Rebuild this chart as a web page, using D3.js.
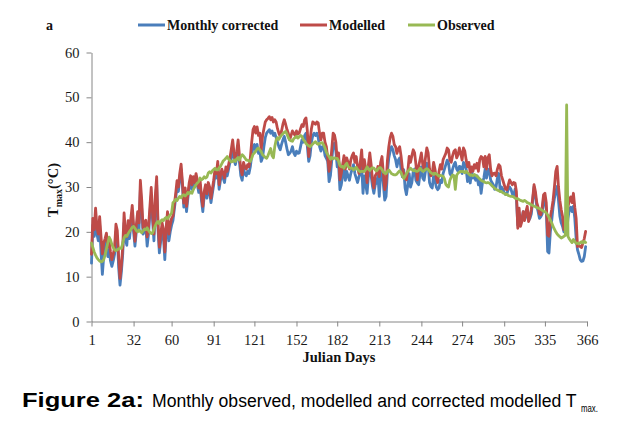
<!DOCTYPE html>
<html><head><meta charset="utf-8">
<script src="https://cdn.jsdelivr.net/npm/d3@7"></script>
<style>
html,body{margin:0;padding:0;background:#fff;}
svg{display:block;}
</style></head>
<body>
<svg id="chart" width="624" height="427"></svg>
<script>
// ---------------- DATA ----------------
const seriesNames = ["Monthly corrected", "Modelled", "Observed"];
const xTickValues = [1, 32, 60, 91, 121, 152, 182, 213, 244, 274, 305, 335, 366];
const yTickValues = [0, 10, 20, 30, 40, 50, 60];

const modelled = [
15.0,23.0,20.5,25.3,21.0,19.5,23.4,19.0,15.1,17.5,
18.5,19.7,16.6,18.0,15.5,13.8,15.0,16.5,21.7,20.3,
14.5,9.6,12.5,16.6,24.2,20.0,18.9,22.5,20.0,23.0,
25.9,21.5,17.9,21.5,24.5,22.0,31.5,27.0,20.9,22.0,
22.6,18.9,21.0,25.5,29.9,24.0,19.5,28.0,32.3,22.0,
16.6,19.5,22.0,20.5,15.5,21.0,24.5,19.5,21.5,23.0,
23.5,26.0,28.5,31.4,30.0,33.0,35.1,31.0,26.4,29.8,
25.7,28.5,31.0,32.5,30.5,32.3,31.0,33.0,31.5,29.8,
31.5,28.0,25.7,29.0,30.5,28.5,31.0,30.0,27.5,29.5,
31.5,34.0,33.0,35.7,30.5,32.5,34.0,33.0,32.0,34.5,
33.5,35.0,36.5,38.5,40.5,37.5,36.0,38.0,40.5,37.0,
34.0,32.7,35.5,34.5,34.0,35.0,34.5,36.5,40.0,42.8,
43.5,42.0,43.4,41.5,42.0,38.3,41.3,43.0,44.5,45.0,
45.3,45.7,45.0,45.5,44.5,45.0,44.5,43.0,42.0,41.3,
42.5,44.0,45.0,44.0,42.8,42.0,40.5,41.5,42.5,42.0,
41.5,42.5,41.8,42.0,43.0,43.9,43.5,45.0,45.4,42.5,
36.8,40.5,43.0,44.5,44.3,44.0,44.5,44.3,42.0,40.5,
42.0,42.0,40.0,39.0,36.5,33.5,35.0,38.5,42.0,41.6,
40.0,36.1,37.6,31.6,33.0,35.0,37.0,34.0,36.5,35.5,
34.0,36.0,37.0,37.6,35.5,36.8,34.5,33.0,35.5,38.3,
33.5,36.1,34.0,31.0,35.0,37.6,35.0,31.5,29.8,32.5,
33.0,34.6,32.3,35.5,36.8,33.0,29.4,30.9,36.0,39.0,
41.0,42.0,41.3,39.5,39.0,37.5,38.5,39.0,37.0,34.2,
33.0,32.0,31.6,33.5,36.8,35.5,37.0,38.3,37.6,35.0,
31.6,34.6,36.1,37.6,35.0,34.0,36.5,38.7,37.6,34.0,
32.5,33.0,35.5,34.0,32.0,31.0,33.5,35.0,34.0,36.1,
36.8,37.5,38.7,38.3,36.0,35.5,37.0,38.0,38.3,36.5,
37.2,38.7,37.5,36.0,38.7,38.0,36.0,34.5,35.5,33.1,
34.5,33.5,35.0,34.2,35.3,33.5,36.1,36.8,36.5,34.5,
36.8,34.0,36.5,37.2,34.0,32.5,33.0,33.1,32.5,34.0,
35.0,34.6,32.5,31.5,30.5,29.5,29.4,30.5,31.6,31.0,
30.5,31.0,30.9,29.0,20.8,25.3,21.2,22.3,24.5,22.5,
24.5,25.7,22.3,23.5,25.0,27.5,30.5,29.0,26.5,25.5,
24.0,23.8,25.5,28.3,28.6,26.5,19.3,19.0,23.4,25.0,
27.0,30.0,33.5,34.6,30.0,27.0,25.0,23.4,20.5,20.5,
21.0,25.6,27.0,27.8,26.5,28.6,25.5,23.0,16.7,17.0,
16.7,16.5,17.5,18.5,20.1];

const corrected = [
13.0,21.5,19.0,23.0,19.5,18.0,21.5,15.5,10.5,14.5,
16.5,18.0,14.5,16.0,13.5,12.3,13.5,15.0,20.0,18.8,
12.0,8.1,11.0,15.0,22.0,18.5,17.0,21.0,18.5,21.5,
24.0,20.0,16.8,20.0,23.0,20.5,29.5,25.0,19.5,20.5,
21.0,16.8,19.5,24.0,28.0,22.5,18.0,26.5,30.5,20.5,
15.3,18.0,20.5,19.0,13.8,19.5,23.0,18.0,20.0,21.5,
22.5,25.0,27.5,30.0,29.0,32.0,34.0,30.0,25.5,28.5,
24.5,27.5,30.0,31.5,29.5,31.5,30.0,32.0,30.5,28.8,
30.5,27.0,24.5,28.0,29.5,27.5,30.0,29.0,26.5,28.5,
30.5,33.0,32.0,34.5,29.5,31.5,33.0,32.0,31.0,33.5,
32.5,34.0,35.5,37.0,38.5,36.0,35.0,36.5,38.0,35.5,
32.5,31.5,34.0,33.0,32.5,33.5,33.0,34.5,37.0,39.0,
39.5,38.0,39.5,37.5,38.0,35.7,36.5,39.0,41.0,42.0,
42.4,42.8,42.0,42.5,41.5,42.0,41.0,40.0,39.0,38.3,
39.5,40.5,41.3,40.0,38.5,37.2,37.5,38.0,39.0,37.6,
37.0,38.0,37.5,37.6,39.0,40.5,40.0,41.5,42.0,39.0,
35.7,37.0,40.0,41.5,42.0,41.5,42.0,41.0,39.0,38.0,
39.0,39.0,37.0,36.4,35.7,31.2,32.5,36.0,39.4,39.8,
38.0,34.5,35.0,29.4,30.5,32.5,34.5,31.5,33.5,32.5,
31.5,33.0,34.0,35.0,33.0,32.0,31.0,32.3,33.0,35.0,
28.6,32.5,30.5,28.6,32.5,35.0,32.5,30.1,28.6,30.5,
31.0,32.5,27.9,33.0,34.5,30.5,27.1,27.9,33.5,36.5,
38.0,39.0,38.3,37.0,36.1,34.5,36.0,36.5,34.0,32.3,
33.9,29.8,28.3,30.5,33.0,30.0,31.0,33.5,34.0,31.5,
30.9,30.5,33.0,34.5,32.0,31.5,33.5,35.3,35.0,31.0,
30.1,29.8,32.5,31.5,30.0,29.4,29.8,31.5,31.0,33.0,
34.0,35.0,36.0,35.3,33.0,32.5,34.0,35.0,35.5,34.0,
33.5,34.6,34.5,33.0,35.5,35.0,33.9,31.2,33.0,30.9,
33.5,32.0,32.5,31.5,32.5,30.5,31.5,28.6,31.0,32.0,
34.0,32.0,33.5,34.0,31.6,31.0,30.5,29.5,30.0,32.0,
33.0,29.4,30.0,29.5,28.8,28.3,28.5,29.5,30.0,29.5,
28.5,28.0,29.5,27.5,21.5,23.5,22.0,22.8,24.5,23.0,
23.5,23.5,22.5,23.0,24.0,27.0,30.0,28.0,25.7,24.5,
23.0,23.4,24.0,27.5,27.0,25.0,15.6,15.3,20.0,22.5,
25.5,27.5,29.0,30.1,27.0,23.5,22.0,21.2,20.0,20.0,
20.0,23.0,25.0,25.5,24.5,25.7,23.0,18.5,16.0,15.0,
13.8,13.4,13.5,14.5,16.7];

const observed = [
17.5,16.5,15.5,14.8,14.2,13.8,13.5,13.3,13.4,13.8,
14.8,16.2,17.5,18.8,18.2,17.2,16.5,16.0,15.8,16.0,
16.2,16.4,16.3,17.5,18.7,19.2,19.0,19.6,20.1,20.5,
21.0,21.2,20.8,20.3,20.0,20.4,20.1,19.8,20.2,20.6,
20.5,20.9,20.3,19.9,19.6,19.8,20.6,21.4,22.0,22.3,
21.8,22.4,22.7,22.5,23.0,23.2,22.9,23.4,23.8,24.2,
26.5,26.8,27.3,27.0,27.5,27.9,27.6,28.1,28.3,28.0,
28.3,28.8,28.5,28.9,28.6,29.4,30.0,30.5,30.9,31.2,
32.0,31.6,31.8,32.3,32.0,32.2,33.1,33.4,33.1,33.6,
33.9,34.2,33.8,33.8,34.3,34.6,35.2,35.8,36.1,36.4,
36.8,36.2,35.9,35.6,35.7,36.0,35.7,36.3,36.6,36.0,
36.8,37.2,36.9,36.5,36.0,36.0,35.8,35.7,36.4,37.3,
37.6,38.0,38.5,38.7,38.3,37.9,37.2,36.9,36.6,36.4,
37.0,37.8,38.6,37.0,36.5,39.0,40.5,41.0,40.6,41.2,
41.6,41.9,42.2,42.4,41.8,41.0,40.5,40.3,40.2,40.8,
41.0,41.3,40.9,41.2,41.5,41.3,40.6,40.2,39.7,39.4,
39.2,39.0,39.3,39.6,39.9,40.1,39.7,39.5,39.8,39.8,
39.9,39.4,38.7,37.8,37.2,36.8,36.2,36.6,36.3,36.5,
36.4,36.4,35.8,34.8,34.5,34.6,34.2,34.9,35.3,34.6,
34.3,34.2,34.2,33.8,34.1,34.4,33.9,33.6,33.4,33.5,
33.5,33.5,33.9,34.5,34.0,33.7,34.1,34.3,34.2,33.8,
33.6,34.0,34.3,34.3,33.9,33.3,33.1,33.0,33.5,33.8,
33.4,33.0,32.8,32.7,32.7,32.9,33.3,33.6,33.2,32.5,
31.9,32.4,33.0,33.5,33.8,34.2,33.9,33.6,33.8,33.5,
33.5,33.7,34.2,33.8,33.5,33.6,33.9,34.1,33.9,33.5,
33.2,33.0,32.8,33.1,32.9,32.7,32.4,32.6,32.5,32.4,
31.8,30.6,30.2,30.0,31.5,32.2,32.7,32.5,29.5,32.6,
33.1,33.3,33.5,33.4,33.5,33.2,33.5,33.2,32.9,32.6,
32.7,32.5,32.8,32.6,32.4,32.1,31.8,31.5,31.3,31.2,
31.0,30.9,31.0,30.9,30.6,30.3,30.0,29.7,29.5,29.3,
29.2,29.0,29.0,28.7,28.6,28.3,28.4,28.1,28.0,27.9,
27.9,27.8,27.5,27.4,27.4,27.2,27.0,26.9,26.8,27.0,
26.8,26.5,26.4,26.2,26.0,25.9,25.7,25.6,25.4,25.3,
25.2,25.0,24.8,24.6,24.5,24.2,23.8,23.2,22.6,22.0,
21.2,20.6,20.0,19.5,19.2,18.9,18.6,18.8,19.0,19.2,
48.3,19.0,18.4,18.0,17.6,18.3,17.8,17.4,17.5,17.3,
17.6,17.8,17.5,17.9,17.6];

const seriesColors = ["#4A7EBB", "#BE4B48", "#98B954"];

// ---------------- CHART ----------------
const svg = d3.select("#chart");
const x = d3.scaleLinear().domain([1, 366]).range([91.5, 587]);
const y = d3.scaleLinear().domain([0, 60]).range([321.5, 52.5]);
const axisColor = "#868686";
const serif = "'Liberation Serif','Times New Roman',serif";

// y axis
const yAxis = svg.append("g").attr("transform", `translate(${x.range()[0]},0)`)
  .call(d3.axisLeft(y).tickValues(yTickValues).tickSize(5).tickSizeOuter(0).tickPadding(7));
// x axis
const xAxis = svg.append("g").attr("transform", `translate(0,${y(0)})`)
  .call(d3.axisBottom(x).tickValues(xTickValues).tickSize(5).tickSizeOuter(0).tickPadding(8));
[yAxis, xAxis].forEach(g => {
  g.select(".domain").attr("stroke", axisColor).attr("stroke-width", 1);
  g.selectAll(".tick line").attr("stroke", axisColor);
  g.selectAll(".tick text").attr("fill", "#1a1a1a").style("font-family", serif).style("font-size", "14.5px");
});

// lines
const seriesData = [corrected, modelled, observed];
const line = d3.line().x((d, i) => x(i + 1)).y(d => y(d));
seriesData.forEach((vals, k) => {
  svg.append("path").datum(vals)
    .attr("fill", "none").attr("stroke", seriesColors[k])
    .attr("stroke-width", 2.8).attr("stroke-linejoin", "round").attr("stroke-linecap", "round")
    .attr("d", line);
});

// panel letter
svg.append("text").attr("x", 46).attr("y", 30).text("a")
  .style("font-family", serif).style("font-weight", "bold").style("font-size", "14px").attr("fill", "#111");

// legend
const legendX = [138, 300, 408];
seriesNames.forEach((n, k) => {
  const gx = legendX[k];
  svg.append("line").attr("x1", gx).attr("x2", gx + 27).attr("y1", 25).attr("y2", 25)
    .attr("stroke", seriesColors[k]).attr("stroke-width", 3);
  svg.append("text").attr("x", gx + 29).attr("y", 30).text(n)
    .style("font-family", serif).style("font-weight", "bold").style("font-size", "14px").attr("fill", "#111");
});

// y title
const yt = svg.append("text").attr("transform", "translate(58,190) rotate(-90)")
  .attr("text-anchor", "middle")
  .style("font-family", serif).style("font-weight", "bold").style("font-size", "14.5px").attr("fill", "#111");
yt.append("tspan").text("T");
yt.append("tspan").text("max").attr("dy", 4).style("font-size", "10px");
yt.append("tspan").text("(°C)").attr("dy", -4);

// x title
svg.append("text").attr("x", 339).attr("y", 362).attr("text-anchor", "middle").text("Julian Days")
  .style("font-family", serif).style("font-weight", "bold").style("font-size", "14.5px").attr("fill", "#111");

// caption (horizontally scaled to the reference's spans)
const sans = "'Liberation Sans',Arial,sans-serif";
function fitText(str, x0, y0, width, size, weight) {
  const t = svg.append("text").text(str)
    .style("font-family", sans).style("font-weight", weight).style("font-size", size + "px").attr("fill", "#000");
  const nat = t.node().getComputedTextLength();
  t.attr("transform", `translate(${x0},${y0}) scale(${(width / nat).toFixed(4)},1)`);
  return t;
}
fitText("Figure 2a:", 22, 407, 122, 20, "bold");
fitText("Monthly observed, modelled and corrected modelled T", 152, 407, 425, 19, "normal");
fitText("max.", 581, 412, 17, 10, "normal");
</script>
</body></html>
